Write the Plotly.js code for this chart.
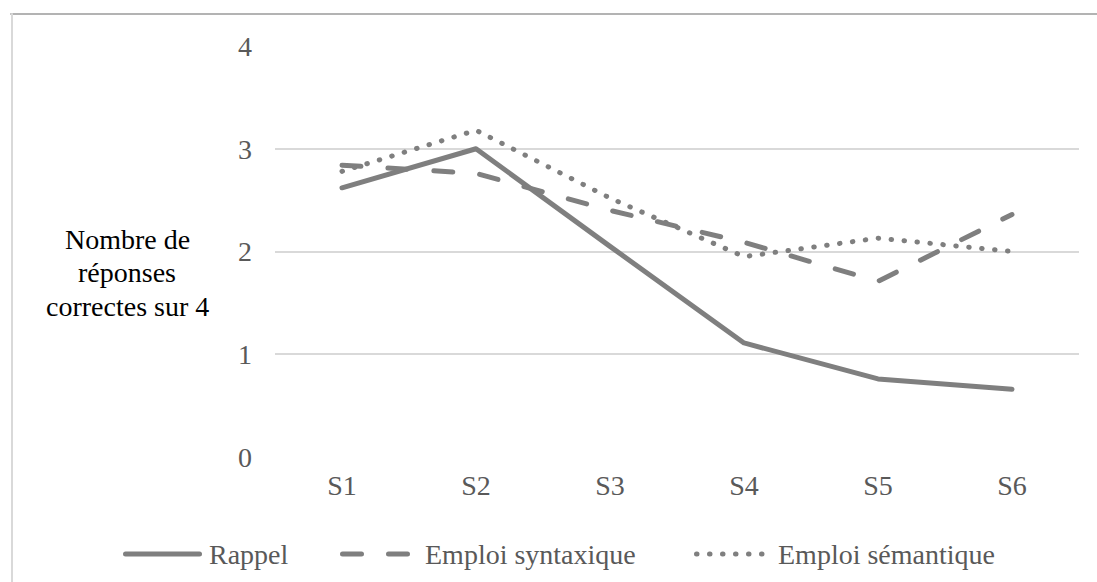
<!DOCTYPE html>
<html>
<head>
<meta charset="utf-8">
<script src="https://cdn.plot.ly/plotly-3.0.1.min.js"></script>
</head>
<body style="margin:0;padding:0;background:#fff;font-family:'Liberation Serif',serif;">
<div id="chart" style="width:1097px;height:582px;"></div>
<script>
const categories = ["S1", "S2", "S3", "S4", "S5", "S6"];
const rappel = [2.62, 3.0, 2.05, 1.11, 0.76, 0.66];
const syntaxique = [2.84, 2.76, 2.4, 2.09, 1.71, 2.36];
const semantique = [2.78, 3.18, 2.52, 1.95, 2.13, 2.0];
const seriesNames = ["Rappel", "Emploi syntaxique", "Emploi sémantique"];
const yTicks = [0, 1, 2, 3, 4];
const yTitleLines = ["Nombre de", "réponses", "correctes sur 4"];

const FONT = "Liberation Serif";
const LINE = "#7f7f7f";
const dashes = ["solid", "19px,27px", "0.5px,12.5px"];
const widths = [5, 5, 5];

const W = 1097, H = 582;
const L = 275, R = 18, T = 46, B = 125;
const pw = W - L - R, ph = H - T - B;
const px = x => (x - L) / pw;
const py = y => (H - B - y) / ph;

const dataSeries = [rappel, syntaxique, semantique];
const traces = dataSeries.map((vals, i) => ({
  type: "scatter",
  mode: "lines",
  x: categories,
  y: vals,
  name: seriesNames[i],
  line: {color: LINE, width: widths[i], dash: dashes[i]},
  hoverinfo: "skip",
  showlegend: false
}));

const legendY = py(554);
const legendItems = [
  {x0: 123, x1: 202, tx: 207},
  {x0: 340, x1: 412, tx: 423},
  {x0: 694, x1: 766, tx: 776}
];
const shapes = [
  {type: "line", xref: "paper", yref: "paper", x0: px(11), x1: px(1097), y0: py(14), y1: py(14),
   line: {color: "#b3b3b3", width: 2}},
  {type: "line", xref: "paper", yref: "paper", x0: px(12), x1: px(12), y0: py(14), y1: py(582),
   line: {color: "#d9d9d9", width: 2}}
];
const annotations = [];
const titleCenters = [239, 272.5, 306];
yTitleLines.forEach((t, i) => {
  annotations.push({xref: "paper", yref: "paper", x: px(127), y: py(titleCenters[i]), text: t,
    showarrow: false, xanchor: "center", yanchor: "middle", align: "center",
    font: {family: FONT, size: 28, color: "#000000"}});
});
legendItems.forEach((it, i) => {
  shapes.push({type: "line", xref: "paper", yref: "paper", x0: px(it.x0 + 2.5), x1: px(it.x1 - 2.5),
    y0: legendY, y1: legendY, line: {color: LINE, width: widths[i], dash: dashes[i]}});
  annotations.push({xref: "paper", yref: "paper", x: px(it.tx), y: legendY, text: seriesNames[i],
    showarrow: false, xanchor: "left", yanchor: "middle",
    font: {family: FONT, size: 28, color: "#595959"}});
});

const layout = {
  width: W, height: H,
  margin: {l: L, r: R, t: T, b: B, pad: 0},
  paper_bgcolor: "#ffffff",
  plot_bgcolor: "#ffffff",
  showlegend: false,
  font: {family: FONT, size: 28, color: "#595959"},
  xaxis: {
    type: "category",
    range: [-0.5, 5.5],
    showgrid: false,
    zeroline: false,
    showline: false,
    ticks: "",
    ticklabelstandoff: 9,
    tickfont: {family: FONT, size: 28, color: "#595959"},
    fixedrange: true
  },
  yaxis: {
    range: [0, 4],
    tickvals: yTicks,
    ticktext: yTicks.map(String),
    showgrid: true,
    gridcolor: "#d9d9d9",
    gridwidth: 2,
    zeroline: false,
    showline: false,
    ticks: "",
    ticklabelstandoff: 22,
    tickfont: {family: FONT, size: 28, color: "#595959"},
    fixedrange: true
  },
  shapes: shapes,
  annotations: annotations
};

function roundCaps() {
  document.querySelectorAll("#chart .scatterlayer path.js-line, #chart .shapelayer path").forEach(p => {
    p.style.strokeLinecap = "round";
    p.style.strokeLinejoin = "round";
  });
}

Plotly.newPlot("chart", traces, layout, {displayModeBar: false}).then(roundCaps);
</script>
</body>
</html>
